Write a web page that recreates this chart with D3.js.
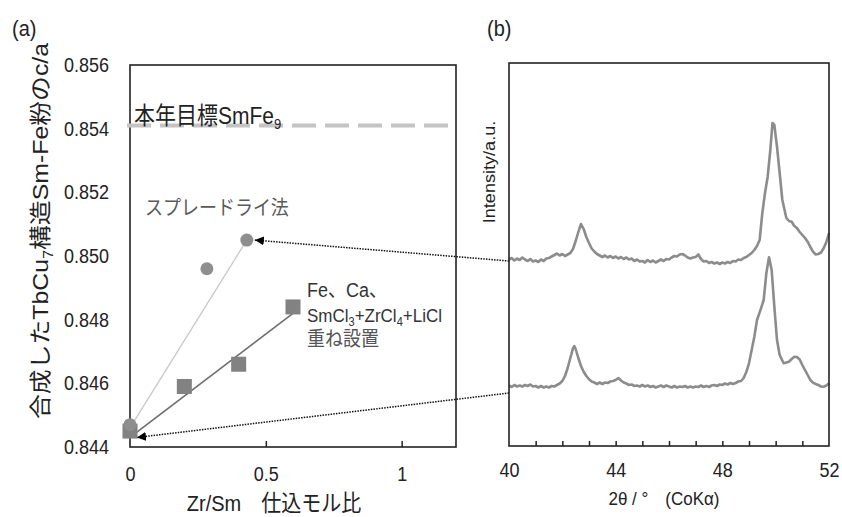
<!DOCTYPE html>
<html><head><meta charset="utf-8">
<script src="https://cdn.jsdelivr.net/npm/d3@7"></script>
<style>
html,body{margin:0;padding:0;background:#fff;}
svg text{font-family:"Liberation Sans","Noto Sans CJK JP",sans-serif;}
</style></head>
<body><svg id="c" width="842" height="517"></svg>
<script>
// ---- Panel (a) data ----
const yTicksA = [0.844, 0.846, 0.848, 0.850, 0.852, 0.854, 0.856];
const xTicksA = [0, 0.5, 1];
const xTickLabelsA = ["0", "0.5", "1"];
const targetCA = 0.8541;
const sprayX = [0, 0.283, 0.43];
const sprayY = [0.8447, 0.8496, 0.8505];
const stackX = [0, 0.2, 0.4, 0.6];
const stackY = [0.8445, 0.8459, 0.8466, 0.8484];
const sprayFitX = [0, 0.43];
const sprayFitY = [0.8446, 0.8505];
const stackFitX = [0, 0.6];
const stackFitY = [0.8443, 0.8482];

// ---- Panel (b) data ----
const xTicksB = [40, 44, 48, 52];
const upper2T = [40.0,40.1,40.2,40.3,40.4,40.5,40.6,40.7,40.8,40.9,41.0,41.1,41.2,41.3,41.4,41.5,41.6,41.7,41.8,41.9,42.0,42.1,42.2,42.3,42.4,42.5,42.6,42.7,42.8,42.9,43.0,43.1,43.2,43.3,43.4,43.5,43.6,43.7,43.8,43.9,44.0,44.1,44.2,44.3,44.4,44.5,44.6,44.7,44.8,44.9,45.0,45.1,45.2,45.3,45.4,45.5,45.6,45.7,45.8,45.9,46.0,46.1,46.2,46.3,46.4,46.5,46.6,46.7,46.8,46.9,47.0,47.1,47.2,47.3,47.4,47.5,47.6,47.7,47.8,47.9,48.0,48.1,48.2,48.3,48.4,48.5,48.6,48.7,48.8,48.9,49.0,49.1,49.2,49.3,49.4,49.5,49.6,49.7,49.8,49.88,49.95,50.05,50.15,50.25,50.4,50.5,50.6,50.7,50.8,50.9,51.0,51.1,51.2,51.3,51.4,51.5,51.6,51.7,51.8,51.9,52.0];
const upperI  = [186.5,188,185.5,187.5,186,188.5,186.5,185,187,184.5,185.5,184,186.5,185,187.5,188,189.5,191,192.5,190.5,192,190,191.5,193,197,205,214,222,217,209,203,197.5,194.5,192,190.5,189,190.5,188.5,190,188,189.5,187.5,189,187,188.5,186.5,187.5,185,186.5,184.5,185,183.5,186,184,185.5,183.5,185,186.5,185,187,186.5,188.5,190,189.5,191.5,192,190.5,188.5,187.5,188.5,189,191.5,187,184.5,185,183,184,182.5,183.5,182,183.5,182.5,184,183,185,184.5,186.5,186,188,189,191,193,196,200,206,233,253,269.3,296,323,321,299.3,273,246,228,225,224.3,220,218,214,211,208,204.3,199,194.3,191.5,192,193.5,197.7,204,213];
const lower2T = [40.0,40.1,40.2,40.3,40.4,40.5,40.6,40.7,40.8,40.9,41.0,41.1,41.2,41.3,41.4,41.5,41.6,41.7,41.8,41.9,42.0,42.1,42.2,42.3,42.4,42.45,42.5,42.6,42.7,42.8,42.9,43.0,43.1,43.2,43.3,43.4,43.5,43.6,43.7,43.8,43.9,44.0,44.1,44.2,44.3,44.4,44.5,44.6,44.7,44.8,44.9,45.0,45.1,45.2,45.3,45.4,45.5,45.6,45.7,45.8,45.9,46.0,46.1,46.2,46.3,46.4,46.5,46.6,46.7,46.8,46.9,47.0,47.1,47.2,47.3,47.4,47.5,47.6,47.7,47.8,47.9,48.0,48.1,48.2,48.3,48.4,48.5,48.6,48.7,48.8,48.9,49.0,49.1,49.2,49.3,49.45,49.55,49.65,49.75,49.85,49.95,50.05,50.15,50.3,50.4,50.5,50.6,50.7,50.8,50.9,51.0,51.1,51.2,51.3,51.4,51.5,51.6,51.7,51.8,51.9,52.0];
const lowerI  = [60.5,59,61,59.5,60.5,59.5,61,60,61.5,59.5,60,58.5,60,58.5,59.5,58.5,60,59.5,61,62.5,65,70,78,88,97.7,100,97,88,80,74.3,70,66.7,64.5,63.5,62,63.5,62,63.5,63,64.5,65,66,68,65.5,63.5,62.5,61,61.5,60,60.5,59.5,61,59.5,60.5,59,60,58.5,59.5,60.5,59,60.5,59.5,58.5,60,58.5,59.5,59,60,58.5,59.5,58.5,59.5,59,60.5,59,60,59,60.5,61,60,61.5,61,62.5,61.5,63,62,63,64.5,65,68,74,82.7,96,109.3,126,137.7,146,172.7,188.7,176,139.3,106,91,82.7,83.5,84.3,87,89.3,89,86.5,81,76,71,66,63.3,62,61,59.5,59.3,60.5,62.7];
const arrowUpperI = 185;
const arrowLowerI = 53;

const svg = d3.select("#c");
const defs = svg.append("defs");
defs.append("marker").attr("id","ah").attr("viewBox","0 0 10 10")
  .attr("refX",10).attr("refY",5).attr("markerWidth",9).attr("markerHeight",9)
  .attr("markerUnits","userSpaceOnUse").attr("orient","auto")
  .append("path").attr("d","M0,0 L10,5 L0,10 Z").attr("fill","#000");

const K = 1.13; // vertical stretch of horizontal text, as in the reference
function stretch(sel){
  sel.each(function(){
    const b = this.getBBox(); const cy = b.y + b.height/2;
    d3.select(this).attr("transform",`translate(0,${cy}) scale(1,${K}) translate(0,${-cy})`);
  });
}

// ---- Panel (a) ----
const xA = d3.scaleLinear().domain([0, 1.2]).range([130, 456]);
const yA = d3.scaleLinear().domain([0.844, 0.856]).range([447, 65]);
const gA = svg.append("g");

stretch(gA.append("text").attr("x",12).attr("y",35).attr("font-size",20).attr("fill","#222").text("(a)"));

const yAx = d3.axisLeft(yA).tickValues(yTicksA).tickSize(0).tickPadding(21).tickFormat(d3.format(".3f"));
const gy = gA.append("g").attr("transform",`translate(${xA(0)},0)`).call(yAx);
gy.select(".domain").remove();
gy.selectAll("text").attr("font-size",18).attr("fill","#222").attr("font-family",null);
stretch(gy.selectAll("text"));

const xAx = d3.axisBottom(xA).tickValues(xTicksA).tickSize(0).tickPadding(20)
  .tickFormat((d,i)=>xTickLabelsA[i]);
const gx = gA.append("g").attr("transform",`translate(0,${yA(0.844)})`).call(xAx);
gx.select(".domain").remove();
gx.selectAll("text").attr("font-size",18).attr("fill","#222").attr("font-family",null);
stretch(gx.selectAll("text"));
const gxt = gA.append("g").attr("transform",`translate(0,${yA(0.844)})`)
  .call(d3.axisBottom(xA).tickValues(xTicksA.slice(1)).tickSize(-6).tickFormat(""));
gxt.select(".domain").remove();
gxt.selectAll("line").attr("stroke","#222").attr("stroke-width",1.5);

gA.append("rect").attr("x",xA(0)).attr("y",yA(0.856)).attr("width",xA(1.2)-xA(0)).attr("height",yA(0.844)-yA(0.856))
  .attr("fill","none").attr("stroke","#222").attr("stroke-width",1.6);

gA.append("line").attr("x1",xA(0)-3).attr("x2",xA(1.2)-4).attr("y1",yA(targetCA)).attr("y2",yA(targetCA))
  .attr("stroke","#c4c4c4").attr("stroke-width",4).attr("stroke-dasharray","24,9");
const tt = gA.append("text").attr("x",134).attr("y",yA(targetCA)-2).attr("font-size",21).attr("fill","#222");
tt.append("tspan").text("本年目標SmFe");
tt.append("tspan").attr("font-size",13).attr("dy",4).text("9");
stretch(tt);

const line = d3.line().x(d=>xA(d[0])).y(d=>yA(d[1]));
gA.append("path").attr("d",line(d3.zip(sprayFitX,sprayFitY))).attr("stroke","#c8c8c8").attr("stroke-width",1.3).attr("fill","none");
gA.append("path").attr("d",line(d3.zip(stackFitX,stackFitY))).attr("stroke","#6e6e6e").attr("stroke-width",1.6).attr("fill","none");

gA.selectAll("rect.sq").data(d3.zip(stackX,stackY)).join("rect").attr("class","sq")
  .attr("x",d=>xA(d[0])-7.5).attr("y",d=>yA(d[1])-7.5).attr("width",15).attr("height",15).attr("fill","#828282");
gA.selectAll("circle.ci").data(d3.zip(sprayX,sprayY)).join("circle").attr("class","ci")
  .attr("cx",d=>xA(d[0])).attr("cy",d=>yA(d[1])).attr("r",6.5).attr("fill","#8e8e8e");

stretch(gA.append("text").attr("x",145).attr("y",214).attr("font-size",18).attr("fill","#5a5a5a").text("スプレードライ法"));
stretch(gA.append("text").attr("x",307).attr("y",296).attr("font-size",18).attr("fill","#333").text("Fe、Ca、"));
const t2 = gA.append("text").attr("x",307).attr("y",321).attr("font-size",17).attr("fill","#333");
t2.append("tspan").text("SmCl");
t2.append("tspan").attr("font-size",11).attr("dy",4).text("3");
t2.append("tspan").attr("dy",-4).text("+ZrCl");
t2.append("tspan").attr("font-size",11).attr("dy",4).text("4");
t2.append("tspan").attr("dy",-4).text("+LiCl");
stretch(t2);
stretch(gA.append("text").attr("x",307).attr("y",345).attr("font-size",18).attr("fill","#555").text("重ね設置"));

const yt = gA.append("text").attr("transform",`translate(48,231) rotate(-90) scale(${K},1)`).attr("text-anchor","middle")
  .attr("font-size",22).attr("fill","#222");
yt.append("tspan").text("合成したTbCu");
yt.append("tspan").attr("font-size",14).attr("dy",5).text("7");
yt.append("tspan").attr("dy",-5).text("構造Sm-Fe粉のc/a");
stretch(gA.append("text").attr("x",274).attr("y",510).attr("text-anchor","middle").attr("font-size",20).attr("fill","#222")
  .text("Zr/Sm　仕込モル比"));

// ---- Panel (b) ----
const xB = d3.scaleLinear().domain([40, 52]).range([509, 829]);
const yB = d3.scaleLinear().domain([0, 383]).range([446, 63]);
const gB = svg.append("g");
stretch(gB.append("text").attr("x",487).attr("y",35).attr("font-size",20).attr("fill","#222").text("(b)"));

const gbx = gB.append("g").attr("transform",`translate(0,446)`)
  .call(d3.axisBottom(xB).tickValues(xTicksB).tickSize(0).tickPadding(17).tickFormat(d3.format("d")));
gbx.select(".domain").remove();
gbx.selectAll("text").attr("font-size",18).attr("fill","#222").attr("font-family",null);
stretch(gbx.selectAll("text"));
const gbm = gB.append("g").attr("transform",`translate(0,446)`)
  .call(d3.axisBottom(xB).tickValues(d3.range(41,52)).tickSize(-5).tickFormat(""));
gbm.select(".domain").remove();
gbm.selectAll("line").attr("stroke","#222").attr("stroke-width",1.5);

const lineB = d3.line().x(d=>xB(d[0])).y(d=>yB(d[1]));
gB.append("path").attr("d",lineB(d3.zip(upper2T,upperI))).attr("fill","none").attr("stroke","#8c8c8c").attr("stroke-width",2.6).attr("stroke-linejoin","round");
gB.append("path").attr("d",lineB(d3.zip(lower2T,lowerI))).attr("fill","none").attr("stroke","#8c8c8c").attr("stroke-width",2.6).attr("stroke-linejoin","round");

gB.append("rect").attr("x",xB(40)).attr("y",yB(383)).attr("width",xB(52)-xB(40)).attr("height",yB(0)-yB(383))
  .attr("fill","none").attr("stroke","#222").attr("stroke-width",1.6);

gB.append("text").attr("transform",`translate(495,172) rotate(-90) scale(${K},1)`).attr("text-anchor","middle")
  .attr("font-size",16).attr("fill","#222").text("Intensity/a.u.");
stretch(gB.append("text").attr("x",664).attr("y",504).attr("text-anchor","middle").attr("font-size",17).attr("fill","#222")
  .text("2θ / °　(CoKα)"));

const arrows = svg.append("g");
arrows.append("line").attr("x1",xB(40)).attr("y1",yB(arrowUpperI))
  .attr("x2",xA(sprayX[2])+8).attr("y2",yA(sprayY[2]))
  .attr("stroke","#111").attr("stroke-width",1.5).attr("stroke-dasharray","1.5,1.2").attr("marker-end","url(#ah)");
arrows.append("line").attr("x1",xB(40)).attr("y1",yB(arrowLowerI))
  .attr("x2",xA(0)+7).attr("y2",yA(0.8443))
  .attr("stroke","#111").attr("stroke-width",1.5).attr("stroke-dasharray","1.5,1.2").attr("marker-end","url(#ah)");
</script></body></html>
